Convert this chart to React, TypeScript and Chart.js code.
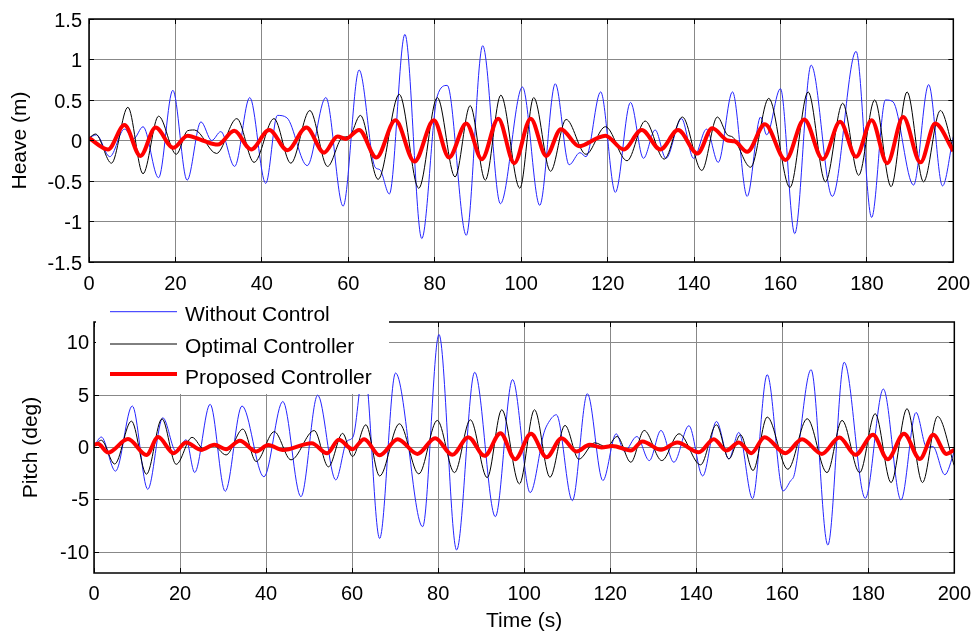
import React, { useEffect, useRef } from "react";
import { Chart, registerables } from "chart.js";

Chart.register(...registerables);

type Pt = [number, number];

// ---------- axes / labels ----------
const timeTicks = [0, 20, 40, 60, 80, 100, 120, 140, 160, 180, 200];
const heaveTicks = [-1.5, -1, -0.5, 0, 0.5, 1, 1.5];
const pitchTicks = [-10, -5, 0, 5, 10];
const seriesLabels = ["Without Control", "Optimal Controller", "Proposed Controller"];
const seriesColors = ["#2525ff", "#000000", "#ff0000"];
const seriesWidths = [1, 1, 4];
const heaveTitle = "Heave (m)";
const pitchTitle = "Pitch (deg)";
const timeTitle = "Time (s)";

// ---------- Heave (m) : [time s, value] extrema ----------
const heaveWithout: Pt[] = [
  [0, 0.03], [1.7, 0.07], [4.8, -0.2], [8.2, 0.14], [10.3, 0.02], [12.5, 0.17], [16.1, -0.46],
  [19.4, 0.62], [22.7, -0.49], [25.9, 0.23], [28.4, 0.0], [30.5, 0.11], [33.7, -0.32], [37.2, 0.53],
  [40.9, -0.53], [43.6, 0.31], [45.8, 0.28], [50.5, -0.31], [54.8, 0.53], [58.8, -0.81], [62.5, 0.87],
  [66.2, -0.33], [67.3, -0.36], [69.5, -0.66], [73.1, 1.31], [77.0, -1.21], [80.6, 0.55], [82.9, 0.68],
  [87.3, -1.17], [91.1, 1.17], [95.2, -0.78], [100.3, 0.66], [104.3, -0.8], [107.9, 0.7], [111.1, -0.3],
  [113.6, -0.15], [115.0, -0.2], [118.4, 0.6], [121.8, -0.64], [125.3, 0.47], [128.3, -0.22], [131.0, 0.13],
  [133.5, -0.22], [137.1, 0.27], [139.9, -0.22], [142.9, 0.14], [145.6, -0.27], [148.9, 0.6], [152.3, -0.69],
  [155.4, 0.29], [156.8, 0.07], [160.0, 0.64], [163.3, -1.15], [167.1, 0.93], [172.0, -0.69], [177.5, 1.1],
  [181.1, -0.95], [184.3, 0.5], [186.0, 0.48], [190.8, -0.55], [194.3, 0.69], [197.5, -0.56], [200, 0.05],
];
const heaveOptimal: Pt[] = [
  [0, 0.03], [1.5, 0.08], [5.2, -0.28], [9.0, 0.41], [12.5, -0.41], [16.1, 0.3], [20.2, -0.17],
  [22.8, 0.12], [24.4, 0.13], [29.5, -0.16], [34.2, 0.27], [38.2, -0.27], [42.8, 0.27], [46.7, -0.28],
  [51.1, 0.37], [55.2, -0.32], [58.7, 0.04], [60.2, 0.05], [62.8, 0.31], [66.9, -0.48], [71.8, 0.57],
  [76.3, -0.59], [80.6, 0.53], [84.7, -0.45], [88.2, 0.43], [91.7, -0.49], [95.3, 0.56], [99.7, -0.59],
  [102.9, 0.53], [106.8, -0.38], [110.4, 0.26], [115.0, -0.17], [119.5, 0.17], [124.5, -0.25], [128.7, 0.24],
  [133.1, -0.23], [137.3, 0.29], [141.8, -0.37], [145.4, 0.29], [147.7, 0.07], [149.0, 0.04], [153.1, -0.33],
  [157.3, 0.52], [162.2, -0.58], [166.4, 0.6], [170.4, -0.51], [174.4, 0.46], [178.1, -0.43], [181.8, 0.5],
  [185.6, -0.57], [189.3, 0.6], [193.1, -0.51], [197.0, 0.37], [200, -0.11],
];
const heaveProposed: Pt[] = [
  [0, 0.03], [4.4, -0.11], [8.2, 0.19], [11.9, -0.19], [15.4, 0.16], [19.5, -0.09], [22.8, 0.06],
  [26.3, 0.0], [29.8, -0.05], [33.6, 0.12], [37.5, -0.11], [41.7, 0.13], [45.9, -0.12], [50.3, 0.16],
  [54.4, -0.15], [57.5, 0.05], [59.4, 0.02], [62.5, 0.13], [66.5, -0.21], [70.9, 0.25], [75.3, -0.26],
  [79.8, 0.25], [83.3, -0.21], [87.3, 0.21], [90.9, -0.23], [94.7, 0.27], [98.4, -0.28], [102.2, 0.27],
  [105.8, -0.19], [109.2, 0.14], [113.4, -0.07], [117.6, 0.03], [119.5, 0.06], [123.7, -0.11], [127.9, 0.13],
  [132.2, -0.11], [136.3, 0.13], [140.8, -0.16], [144.2, 0.15], [147.8, 0.0], [149.4, -0.01], [152.3, -0.14],
  [156.4, 0.2], [161.2, -0.24], [165.5, 0.26], [169.8, -0.23], [173.8, 0.23], [177.5, -0.2], [181.1, 0.25],
  [184.7, -0.28], [188.4, 0.29], [192.4, -0.27], [195.8, 0.21], [200, -0.13],
];

// ---------- Pitch (deg) ----------
const pitchWithout: Pt[] = [
  [0, 0.1], [1.7, 1.0], [5.0, -2.26], [8.9, 3.97], [12.5, -4.0], [16.0, 2.84], [19.1, -0.39],
  [21.4, 0.74], [23.4, -2.39], [27.0, 4.13], [30.5, -4.19], [34.4, 3.97], [39.5, -2.8], [43.9, 4.4],
  [48.1, -4.7], [52.0, 5.0], [56.2, -3.1], [58.8, 0.6], [60.2, 1.0], [62.8, 7.8], [66.4, -8.7],
  [70.1, 7.12], [76.4, -7.57], [80.2, 10.8], [84.3, -9.8], [88.5, 7.19], [93.3, -6.61], [97.3, 6.49],
  [101.4, -4.31], [104.6, 1.4], [105.4, 2.2], [107.5, 3.13], [111.2, -5.08], [114.7, 5.14], [118.3, -3.16],
  [121.4, 1.31], [123.3, -0.38], [126.2, 1.05], [129.1, -1.25], [131.8, 1.63], [134.8, -1.41], [138.3, 2.08],
  [141.5, -2.72], [144.7, 2.49], [147.6, -1.09], [149.9, 1.44], [153.1, -4.89], [156.5, 6.96], [160.2, -4.15],
  [161.9, -3.2], [162.8, -2.6], [166.7, 7.44], [170.6, -9.33], [174.4, 8.15], [179.3, -4.86], [183.5, 5.59],
  [187.6, -5.02], [191.1, 3.35], [193.6, 0.0], [195.0, 0.1], [197.8, -2.6], [200, -0.4],
];
const pitchOptimal: Pt[] = [
  [0, 0.1], [1.7, 0.7], [4.8, -1.58], [8.7, 2.52], [12.2, -2.55], [15.8, 2.74], [19.1, -1.61],
  [22.8, 0.97], [25.7, -0.23], [27.6, 0.26], [30.7, -0.71], [34.6, 1.76], [37.7, -1.34], [41.9, 1.51],
  [45.8, -1.18], [51.2, 1.62], [54.5, -1.85], [57.8, 1.35], [60.1, -0.86], [63.2, 2.17], [66.4, -2.72],
  [71.0, 2.27], [75.5, -2.52], [79.8, 2.59], [83.8, -2.4], [87.5, 2.65], [91.4, -2.88], [94.8, 3.61],
  [98.9, -3.48], [102.4, 3.61], [106.0, -2.84], [109.5, 2.11], [112.7, -1.12], [116.4, 0.45], [119.2, 0.05],
  [121.6, 1.05], [124.8, -1.41], [127.9, 1.63], [132.0, -1.25], [136.0, 1.31], [141.0, -1.66], [144.7, 2.17],
  [147.6, -1.09], [150.3, 1.21], [153.2, -2.2], [156.5, 2.91], [161.3, -2.08], [165.8, 2.75], [170.4, -2.4],
  [173.9, 2.59], [178.0, -2.4], [181.6, 3.23], [185.3, -3.35], [189.0, 3.71], [192.6, -3.35], [196.1, 2.97],
  [200, -1.73],
];
const pitchProposed: Pt[] = [
  [0, 0.26], [0.9, 0.35], [3.3, -0.48], [7.9, 0.81], [12.2, -0.71], [14.9, 1.0], [18.5, -0.55],
  [21.4, 0.48], [24.9, -0.23], [28.0, 0.26], [30.7, -0.16], [33.9, 0.65], [37.7, -0.38], [40.5, 0.24],
  [43.9, -0.24], [50.6, 0.41], [54.2, -0.56], [56.9, 0.73], [60.1, -0.16], [62.8, 0.8], [66.4, -0.75],
  [70.6, 0.8], [75.2, -0.61], [79.3, 0.89], [83.3, -0.7], [87.0, 0.99], [90.8, -0.8], [94.5, 1.37],
  [97.9, -1.12], [101.6, 1.31], [105.2, -0.93], [108.7, 0.89], [112.2, -0.38], [115.2, 0.26], [118.0, 0.0],
  [120.5, 0.15], [124.8, -0.29], [127.5, 0.58], [131.8, -0.22], [135.6, 0.48], [140.6, -0.45], [144.1, 0.8],
  [147.0, -0.29], [149.9, 0.48], [152.8, -0.54], [155.9, 0.99], [160.7, -0.54], [164.6, 0.8], [169.2, -0.61],
  [173.3, 0.96], [177.0, -0.7], [181.1, 1.21], [184.5, -1.12], [188.3, 1.31], [192.0, -1.09], [195.1, 1.21],
  [198.2, -0.61], [200, -0.22],
];

const FONT = '"Liberation Sans", Arial, Helvetica, sans-serif';
const GRID = "#888888";

const alignPx = (p: number) => Math.round(p - 0.5) + 0.5;

const frameAndTicks = {
  id: "frameAndTicks",
  afterDatasetsDraw(chart: any) {
    const { ctx, chartArea: a, scales } = chart;
    const xs = scales.x;
    const ys = scales.y;
    ctx.save();
    ctx.strokeStyle = "#000";
    ctx.lineWidth = 1;
    ctx.beginPath();
    xs.ticks.forEach((t: any) => {
      const px = alignPx(xs.getPixelForValue(t.value));
      ctx.moveTo(px, a.bottom);
      ctx.lineTo(px, a.bottom - 5);
      ctx.moveTo(px, a.top);
      ctx.lineTo(px, a.top + 5);
    });
    ys.ticks.forEach((t: any) => {
      const py = alignPx(ys.getPixelForValue(t.value));
      ctx.moveTo(a.left, py);
      ctx.lineTo(a.left + 5, py);
      ctx.moveTo(a.right, py);
      ctx.lineTo(a.right - 5, py);
    });
    ctx.stroke();
    ctx.lineWidth = 1.5;
    ctx.strokeRect(a.left, a.top, a.right - a.left, a.bottom - a.top);
    ctx.restore();
  },
};

const overlayLegend = {
  id: "overlayLegend",
  afterDraw(chart: any) {
    const { ctx } = chart;
    ctx.save();
    ctx.fillStyle = "#fff";
    ctx.fillRect(96, 0, 293, 94);
    const lineY = [11.7, 44, 74];
    const textY = [20.7, 53.3, 84];
    seriesLabels.forEach((label, i) => {
      ctx.strokeStyle = seriesColors[i];
      ctx.lineWidth = seriesWidths[i];
      ctx.beginPath();
      ctx.moveTo(110, lineY[i]);
      ctx.lineTo(177, lineY[i]);
      ctx.stroke();
      ctx.fillStyle = "#000";
      ctx.font = `21px ${FONT}`;
      ctx.textAlign = "left";
      ctx.textBaseline = "alphabetic";
      ctx.fillText(label, 185, textY[i]);
    });
    ctx.restore();
  },
};

function makeDatasets(series: Pt[][]) {
  return series.map((pts, i) => ({
    label: seriesLabels[i],
    data: pts.map(([x, y]) => ({ x, y })),
    borderColor: seriesColors[i],
    borderWidth: seriesWidths[i],
    pointRadius: 0,
    pointHoverRadius: 0,
    fill: false,
    cubicInterpolationMode: "monotone" as const,
    borderJoinStyle: "round" as const,
    order: 3 - i,
  }));
}

function makeConfig(opts: {
  series: Pt[][];
  yTicks: number[];
  yMin: number;
  yMax: number;
  yTitle: string;
  yTitlePad: number;
  yWidth: number;
  yLabelPad: number;
  yLabelOffset: number;
  padTop: number;
  xHeight: number;
  xLabelPad: number;
  xTitle: boolean;
  plugins: any[];
}): any {
  return {
    type: "line",
    data: { datasets: makeDatasets(opts.series) },
    plugins: opts.plugins,
    options: {
      animation: false,
      responsive: false,
      devicePixelRatio: 1,
      events: [],
      layout: { padding: { left: 0, top: opts.padTop, right: 22, bottom: 0 } },
      plugins: { legend: { display: false }, tooltip: { enabled: false } },
      scales: {
        x: {
          type: "linear",
          min: 0,
          max: 200,
          afterBuildTicks: (s: any) => {
            s.ticks = timeTicks.map((v) => ({ value: v }));
          },
          afterFit: (s: any) => {
            s.height = opts.xHeight;
          },
          grid: { color: GRID, lineWidth: 1, drawTicks: false },
          border: { display: false },
          ticks: {
            color: "#000",
            font: { family: FONT, size: 20 },
            padding: opts.xLabelPad,
            maxRotation: 0,
            autoSkip: false,
            callback: (v: any) => String(v),
          },
          title: {
            display: opts.xTitle,
            text: timeTitle,
            color: "#000",
            font: { family: FONT, size: 21 },
            padding: { top: 0, bottom: 5 },
          },
        },
        y: {
          type: "linear",
          min: opts.yMin,
          max: opts.yMax,
          afterBuildTicks: (s: any) => {
            s.ticks = opts.yTicks.map((v) => ({ value: v }));
          },
          afterFit: (s: any) => {
            s.width = opts.yWidth;
          },
          grid: { color: GRID, lineWidth: 1, drawTicks: false },
          border: { display: false },
          ticks: {
            color: "#000",
            font: { family: FONT, size: 20 },
            padding: opts.yLabelPad,
            labelOffset: opts.yLabelOffset,
            autoSkip: false,
            callback: (v: any) => String(v),
          },
          title: {
            display: true,
            text: opts.yTitle,
            color: "#000",
            font: { family: FONT, size: 21 },
            padding: { top: opts.yTitlePad, bottom: 0 },
          },
        },
      },
    },
  };
}

export default function App() {
  const topRef = useRef<HTMLCanvasElement | null>(null);
  const botRef = useRef<HTMLCanvasElement | null>(null);

  useEffect(() => {
    if (!topRef.current || !botRef.current) return;
    const top = new Chart(
      topRef.current,
      makeConfig({
        series: [heaveWithout, heaveOptimal, heaveProposed],
        yTicks: heaveTicks,
        yMin: -1.5,
        yMax: 1.5,
        yTitle: heaveTitle,
        yTitlePad: 8,
        yWidth: 89,
        yLabelPad: 7,
        yLabelOffset: 2,
        padTop: 14,
        xHeight: 38,
        xLabelPad: 10,
        xTitle: false,
        plugins: [frameAndTicks],
      })
    );
    const bottom = new Chart(
      botRef.current,
      makeConfig({
        series: [pitchWithout, pitchOptimal, pitchProposed],
        yTicks: pitchTicks,
        yMin: -12,
        yMax: 12,
        yTitle: pitchTitle,
        yTitlePad: 19,
        yWidth: 94,
        yLabelPad: 5,
        yLabelOffset: 1,
        padTop: 22,
        xHeight: 66,
        xLabelPad: 9,
        xTitle: true,
        plugins: [frameAndTicks, overlayLegend],
      })
    );
    return () => {
      top.destroy();
      bottom.destroy();
    };
  }, []);

  return (
    <div
      style={{
        position: "absolute",
        left: 0,
        top: 0,
        width: 980,
        height: 639,
        background: "#fff",
        overflow: "hidden",
      }}
    >
      <canvas
        ref={topRef}
        width={980}
        height={300}
        style={{ position: "absolute", left: 0, top: 0, width: 980, height: 300 }}
      />
      <canvas
        ref={botRef}
        width={980}
        height={339}
        style={{ position: "absolute", left: 0, top: 300, width: 980, height: 339 }}
      />
    </div>
  );
}
